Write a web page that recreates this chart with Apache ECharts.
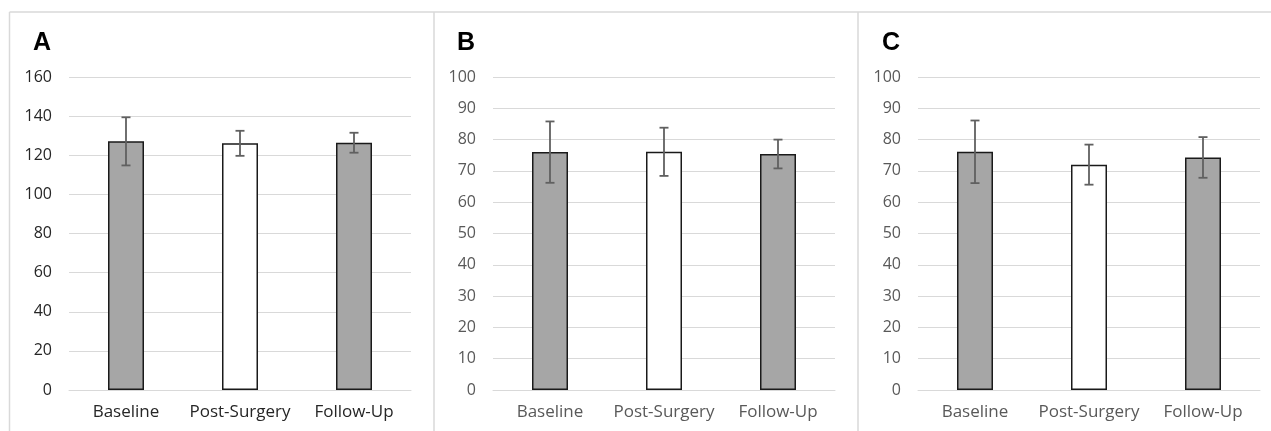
<!DOCTYPE html>
<html>
<head>
<meta charset="utf-8">
<script src="https://cdn.jsdelivr.net/npm/echarts@6/dist/echarts.min.js"></script>
<style>
  html, body { margin: 0; padding: 0; background: #fff; }
  #chart { width: 1271px; height: 431px; }
</style>
</head>
<body>
<div id="chart"></div>
<script>
const categories = ['Baseline', 'Post-Surgery', 'Follow-Up'];
const panelLabels = ['A', 'B', 'C'];

// mean values per panel
const meansA = [127.1, 126.1, 126.4];
const meansB = [76.0, 76.1, 75.4];
const meansC = [76.1, 72.0, 74.3];

// error (± one sd)
const errA = [12.3, 6.4, 5.1];
const errB = [9.8, 7.7, 4.6];
const errC = [10.0, 6.4, 6.5];

const axisMax = [160, 100, 100];
const axisStep = [20, 10, 10];

const barFills = ['#a6a6a6', '#ffffff', '#a6a6a6'];

function initPanels() {
    const chartDom = document.getElementById('chart');
    const chart = echarts.init(chartDom);

    const means = [meansA, meansB, meansC];
    const errs = [errA, errB, errC];
    const gridLefts = [69, 493, 918];
    const textColors = ['#262626', '#595959', '#595959'];
    const font = '"Open Sans", "Noto Sans", sans-serif';

    const grids = [], xAxes = [], yAxes = [], series = [], titles = [];

    means.forEach((vals, i) => {
        grids.push({ left: gridLefts[i], top: 77, width: 342, height: 313 });
        titles.push({
            text: panelLabels[i],
            left: gridLefts[i] - 41,
            top: 26,
            textStyle: { fontSize: 25, fontWeight: 'bold', color: '#000', fontFamily: '"Liberation Sans", Arial, sans-serif' }
        });
        xAxes.push({
            type: 'category',
            gridIndex: i,
            data: categories,
            axisLine: { lineStyle: { color: '#d9d9d9', width: 1 } },
            axisTick: { show: false },
            axisLabel: { color: textColors[i], fontSize: 17, margin: 14, interval: 0, hideOverlap: false, fontFamily: font }
        });
        yAxes.push({
            type: 'value',
            gridIndex: i,
            min: 0,
            max: axisMax[i],
            interval: axisStep[i],
            axisLine: { show: false },
            axisTick: { show: false },
            axisLabel: { color: textColors[i], fontSize: 16, margin: 17, fontFamily: font },
            splitLine: { lineStyle: { color: '#d9d9d9', width: 1 } }
        });
        series.push({
            type: 'bar',
            xAxisIndex: i,
            yAxisIndex: i,
            barWidth: 36,
            data: vals.map((v, k) => ({
                value: v,
                itemStyle: { color: barFills[k], borderColor: '#1a1a1a', borderWidth: 1.5 }
            })),
            silent: true
        });
        series.push({
            type: 'custom',
            xAxisIndex: i,
            yAxisIndex: i,
            data: vals.map((v, k) => [k, v - errs[i][k], v + errs[i][k]]),
            z: 10,
            silent: true,
            renderItem: function (params, api) {
                const lo = api.coord([api.value(0), api.value(1)]);
                const hi = api.coord([api.value(0), api.value(2)]);
                const half = 4.5;
                const style = { stroke: '#606060', lineWidth: 1.8 };
                return {
                    type: 'group',
                    children: [
                        { type: 'line', shape: { x1: hi[0], y1: hi[1], x2: lo[0], y2: lo[1] }, style: style },
                        { type: 'line', shape: { x1: hi[0] - half, y1: hi[1], x2: hi[0] + half, y2: hi[1] }, style: style },
                        { type: 'line', shape: { x1: lo[0] - half, y1: lo[1], x2: lo[0] + half, y2: lo[1] }, style: style }
                    ]
                };
            }
        });
    });

    // panel frame lines
    const frameStyle = { stroke: '#d9d9d9', lineWidth: 1.5 };
    const graphic = [
        { type: 'line', shape: { x1: 9.5, y1: 12, x2: 1271, y2: 12 }, style: frameStyle },
        { type: 'line', shape: { x1: 9.5, y1: 12, x2: 9.5, y2: 431 }, style: frameStyle },
        { type: 'line', shape: { x1: 434, y1: 12, x2: 434, y2: 431 }, style: frameStyle },
        { type: 'line', shape: { x1: 858, y1: 12, x2: 858, y2: 431 }, style: frameStyle }
    ];

    chart.setOption({
        animation: false,
        title: titles,
        grid: grids,
        xAxis: xAxes,
        yAxis: yAxes,
        series: series,
        graphic: graphic
    });
    window.addEventListener('resize', chart.resize);
}

document.addEventListener('DOMContentLoaded', initPanels);
</script>
</body>
</html>
